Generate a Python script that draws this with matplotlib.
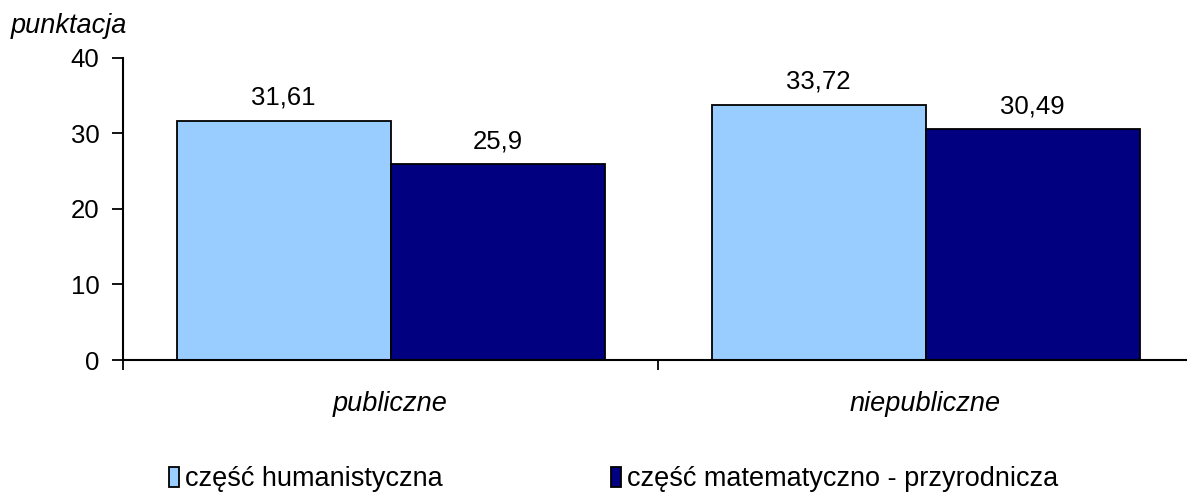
import matplotlib
matplotlib.use("Agg")
import matplotlib.pyplot as plt
import numpy as np

categories = ["publiczne", "niepubliczne"]
series_names = ["część humanistyczna", "część matematyczno - przyrodnicza"]
humanistyczna = [31.61, 33.72]
matematyczna = [25.9, 30.49]
yticks = [0, 10, 20, 30, 40]

plt.rcParams['font.family'] = ['Liberation Sans', 'DejaVu Sans']
FS_NUM = 18.5
FS_TXT = 19.5

fig = plt.figure(figsize=(11.87, 4.93), dpi=100)
ax = fig.add_axes([123/1187, 1-360/493, 1070/1187, (360-57.5)/493])

x = np.arange(len(categories))
w = 0.4
colors = ["#99CCFF", "#000080"]
data = [humanistyczna, matematyczna]
for k, (vals, c, name) in enumerate(zip(data, colors, series_names)):
    bars = ax.bar(x + 0.1 + w/2 + k*w, vals, width=w, color=c, edgecolor="black",
                  linewidth=1.3, label=name)
    for b, v in zip(bars, vals):
        ax.annotate(f"{v:g}".replace(".", ","), (b.get_x() + b.get_width()/2, v),
                    xytext=(0, 8), textcoords="offset points", ha="center", va="bottom",
                    fontsize=FS_NUM)

ax.set_xlim(0, len(categories))
ax.set_ylim(0, 40)
ax.set_yticks(yticks)
ax.set_yticklabels([str(t) for t in yticks], fontsize=FS_NUM)
ax.set_xticks(np.arange(len(categories) + 1))
ax.set_xticklabels([])
ax.set_xticks(x + 0.5, minor=True)
ax.set_xticklabels(categories, minor=True, fontsize=FS_TXT, style="italic")
ax.tick_params(axis="x", which="minor", length=0, pad=22)
ax.tick_params(axis="x", which="major", length=7, width=1.3, direction="out")
ax.tick_params(axis="y", length=8, width=1.3, direction="out", pad=9)
for s in ["top", "right"]:
    ax.spines[s].set_visible(False)
for s in ["left", "bottom"]:
    ax.spines[s].set_linewidth(1.5)

fig.text(11/1187, 1-26/493, "punktacja", fontsize=FS_TXT, style="italic", va="center", ha="left")

leg = fig.legend(loc="center left", bbox_to_anchor=(169/1187, 1-479/493), ncol=2,
                 frameon=False, fontsize=FS_TXT, handlelength=0.38, handleheight=0.76,
                 handletextpad=0.2, columnspacing=6.22, borderpad=0, borderaxespad=0)

fig.savefig("out.png", dpi=100)
